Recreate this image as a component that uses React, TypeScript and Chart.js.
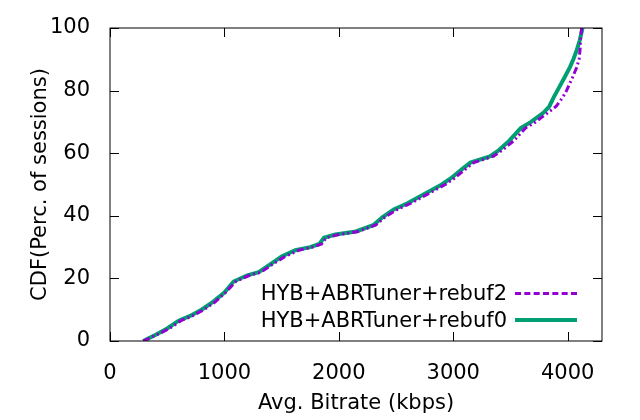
import { useEffect, useRef } from "react";
import Chart from "chart.js/auto";

const cdfLevels = [0, 2, 4, 6.5, 8, 10, 12.5, 15.5, 19, 21, 22, 24.5, 27, 29, 30, 31, 33, 34, 35, 37, 39.5, 42, 44, 46, 48, 50, 52, 55, 57, 59, 61, 64, 68, 70, 73, 75, 78, 80, 84, 87.5, 90, 93, 96, 100];
const rebuf0Rates = [290, 400, 500, 600, 700, 800, 900, 1000, 1080, 1200, 1300, 1400, 1500, 1620, 1750, 1830, 1870, 1970, 2150, 2300, 2380, 2480, 2600, 2700, 2800, 2900, 2980, 3080, 3150, 3320, 3400, 3490, 3590, 3680, 3790, 3840, 3880, 3910, 3970, 4020, 4050, 4080, 4105, 4130];
const rebuf2Rates = [290, 410, 520, 620, 720, 820, 920, 1010, 1100, 1220, 1320, 1420, 1530, 1650, 1770, 1850, 1890, 2000, 2170, 2320, 2400, 2510, 2630, 2730, 2830, 2930, 3010, 3110, 3180, 3350, 3430, 3530, 3630, 3720, 3830, 3900, 3960, 3990, 4040, 4080, 4100, 4108, 4112, 4122];
const xTicks = [0, 1000, 2000, 3000, 4000];
const yTicks = [0, 20, 40, 60, 80, 100];
const seriesLabels = ["HYB+ABRTuner+rebuf2", "HYB+ABRTuner+rebuf0"];

const FONT = "'DejaVu Sans', sans-serif";
const SIZE = 21;

const frame = {
  id: "frame",
  afterDraw(chart: any) {
    const { ctx, chartArea: a, scales } = chart;
    ctx.save();
    ctx.strokeStyle = "#000";
    ctx.lineWidth = 1;
    ctx.strokeRect(a.left, a.top, a.right - a.left, a.bottom - a.top);
    ctx.beginPath();
    for (const v of xTicks) {
      const x = Math.round(scales.x.getPixelForValue(v)) + 0.5;
      ctx.moveTo(x, a.bottom); ctx.lineTo(x, a.bottom - 9);
      ctx.moveTo(x, a.top); ctx.lineTo(x, a.top + 9);
    }
    for (const v of yTicks) {
      const y = Math.round(scales.y.getPixelForValue(v)) + 0.5;
      ctx.moveTo(a.left, y); ctx.lineTo(a.left + 9, y);
      ctx.moveTo(a.right, y); ctx.lineTo(a.right - 9, y);
    }
    ctx.stroke();
    ctx.restore();
  },
};

export default function App() {
  const canvasRef = useRef<HTMLCanvasElement>(null);

  useEffect(() => {
    document.body.style.margin = "0";
    const chart = new Chart(canvasRef.current!, {
      type: "line",
      data: {
        datasets: [
          {
            label: seriesLabels[0],
            data: rebuf2Rates.map((x, i) => ({ x, y: cdfLevels[i] })),
            borderColor: "#9400d3",
            borderWidth: 3,
            borderDash: [7, 3, 2, 3, 2, 3],
            pointRadius: 0,
          },
          {
            label: seriesLabels[1],
            data: rebuf0Rates.map((x, i) => ({ x, y: cdfLevels[i] })),
            borderColor: "#009e73",
            borderWidth: 4,
            pointRadius: 0,
          },
        ],
      },
      options: {
        animation: false,
        responsive: false,
        layout: { padding: { top: 28, right: 38, left: 28, bottom: 0 } },
        plugins: { legend: { display: false }, tooltip: { enabled: false } },
        scales: {
          x: {
            type: "linear",
            min: 0,
            max: 4300,
            afterBuildTicks: (s: any) => { s.ticks = xTicks.map((value) => ({ value })); },
            afterFit: (s: any) => { s.height = 79; },
            grid: { display: false },
            border: { display: false },
            ticks: { font: { family: FONT, size: SIZE }, color: "#000", padding: 12, maxRotation: 0, callback: (v: any) => String(v) },
            title: { display: true, text: "Avg. Bitrate (kbps)", font: { family: FONT, size: SIZE }, color: "#000", padding: { top: 6 } },
          },
          y: {
            min: 0,
            max: 100,
            afterBuildTicks: (s: any) => { s.ticks = yTicks.map((value) => ({ value })); },
            afterFit: (s: any) => { s.width = 82; },
            grid: { display: false },
            border: { display: false },
            ticks: { font: { family: FONT, size: SIZE }, color: "#000", padding: 12, callback: (v: any) => String(v) },
            title: { display: true, text: "CDF(Perc. of sessions)", font: { family: FONT, size: SIZE }, color: "#000", padding: 0 },
          },
        },
      },
      plugins: [frame],
    });
    return () => chart.destroy();
  }, []);

  const legendRow = (label: string, top: number, sample: any) => (
    <div style={{ position: "absolute", left: 200, top, width: 377, height: 26, display: "flex", alignItems: "center", justifyContent: "flex-end", fontFamily: FONT, fontSize: SIZE }}>
      <span style={{ marginRight: 8 }}>{label}</span>
      <span style={{ width: 62, height: 0, ...sample }} />
    </div>
  );

  return (
    <div style={{ position: "relative", width: 640, height: 420 }}>
      <canvas ref={canvasRef} width={640} height={420} />
      {legendRow(seriesLabels[0], 280, { borderTop: "3px dashed #9400d3" })}
      {legendRow(seriesLabels[1], 307, { borderTop: "4px solid #009e73" })}
    </div>
  );
}
